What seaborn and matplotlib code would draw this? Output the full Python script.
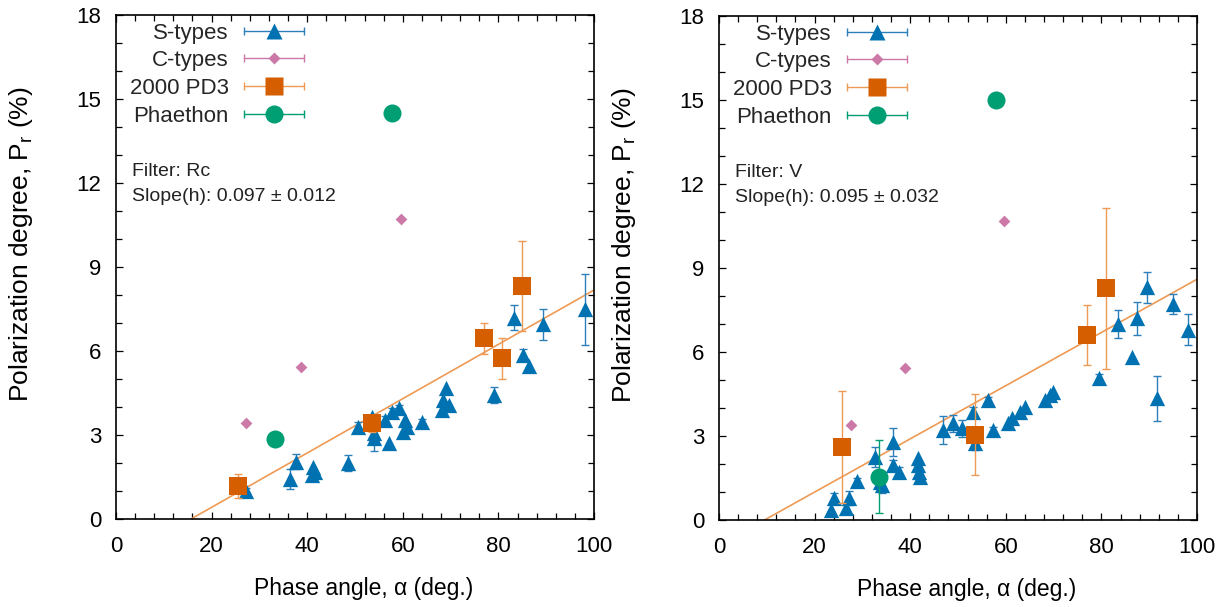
import numpy as np
import pandas as pd
import matplotlib
matplotlib.use("Agg")
import matplotlib.pyplot as plt
import seaborn as sns
from matplotlib.lines import Line2D
from matplotlib.legend_handler import HandlerLine2D, HandlerTuple
from matplotlib.ticker import MultipleLocator

sns.set_theme(style="ticks")
plt.rcParams['font.family'] = ['Liberation Sans', 'DejaVu Sans']

# ---------------- data: filter Rc (left) ----------------
s_alpha_rc = [27.3, 36.4, 37.6, 41.3, 41.6, 41.0, 48.6, 50.7, 53.9, 53.9, 53.5, 56.3, 57.2,
              57.7, 59.3, 60.5, 60.9, 60.1, 64.0, 68.2, 68.5, 69.1, 69.6, 79.1, 83.3,
              85.2, 86.5, 89.3, 98.1]
s_pr_rc = [1.01, 1.42, 2.05, 1.87, 1.69, 1.57, 2.01, 3.27, 2.88, 3.06, 3.65, 3.54, 2.70,
           3.83, 3.95, 3.54, 3.30, 3.12, 3.48, 3.89, 4.25, 4.67, 4.07, 4.43, 7.19,
           5.86, 5.48, 6.96, 7.49]
s_err_rc = [0.10, 0.35, 0.28, 0.0, 0.0, 0.0, 0.28, 0.20, 0.45, 0.0, 0.0, 0.15, 0.0,
            0.15, 0.12, 0.0, 0.0, 0.0, 0.10, 0.0, 0.0, 0.0, 0.0, 0.30, 0.45,
            0.20, 0.0, 0.55, 1.26]
c_alpha_rc = [27.3, 38.7, 59.6]
c_pr_rc = [3.42, 5.42, 10.70]
pd3_alpha_rc = [25.5, 53.5, 76.9, 80.8, 84.9]
pd3_pr_rc = [1.18, 3.42, 6.45, 5.74, 8.32]
pd3_err_rc = [0.43, 0.30, 0.54, 0.74, 1.60]
ph_alpha_rc = [33.2, 57.7]
ph_pr_rc = [2.86, 14.49]
ph_err_rc = [0.0, 0.0]
fit_slope_rc = 0.097
fit_x0_rc = 15.7

# ---------------- data: filter V (right) ----------------
s_alpha_v = [23.4, 24.1, 26.6, 27.1, 28.9, 32.6, 34.0, 33.7, 36.3, 36.3, 37.7, 41.7, 41.7,
             41.9, 42.1, 46.9, 49.0, 50.8, 53.2, 53.6, 56.3, 57.4, 60.5, 61.2, 63.0,
             64.0, 68.2, 69.2, 69.9, 79.4, 83.4, 86.5, 87.4, 89.6, 91.6, 94.9, 98.2]
s_pr_v = [0.36, 0.77, 0.42, 0.77, 1.40, 2.26, 1.25, 1.37, 2.80, 1.96, 1.73, 2.20, 1.96,
          1.73, 1.55, 3.20, 3.45, 3.27, 3.87, 2.74, 4.29, 3.21, 3.45, 3.63, 3.87,
          4.05, 4.29, 4.46, 4.58, 5.06, 7.00, 5.83, 7.20, 8.31, 4.35, 7.71, 6.79]
s_err_v = [0.0, 0.20, 0.10, 0.25, 0.10, 0.35, 0.30, 0.0, 0.50, 0.20, 0.15, 0.0, 0.0,
           0.0, 0.0, 0.50, 0.30, 0.30, 0.15, 0.25, 0.10, 0.10, 0.0, 0.0, 0.0,
           0.0, 0.0, 0.0, 0.0, 0.15, 0.50, 0.0, 0.60, 0.55, 0.80, 0.35, 0.55]
c_alpha_v = [27.6, 38.9, 59.7]
c_pr_v = [3.39, 5.42, 10.69]
pd3_alpha_v = [25.7, 53.6, 76.9, 80.9]
pd3_pr_v = [2.62, 3.04, 6.61, 8.27]
pd3_err_v = [2.00, 1.45, 1.07, 2.86]
ph_alpha_v = [33.5, 57.9]
ph_pr_v = [1.55, 15.00]
ph_err_v = [1.30, 0.0]
fit_slope_v = 0.095
fit_x0_v = 9.5

series_names = ["S-types", "C-types", "2000 PD3", "Phaethon"]
series_colors = ["#0072B2", "#CC79A7", "#D55E00", "#009E73"]
err_colors = ["#2C7FB8", "#CC79A7", "#EE9A55", "#009E73"]
series_markers = ["^", "D", "s", "o"]
series_sizes = [11.0, 6.0, 12.5, 13.0]
fit_color = "#EE9A55"

x_ticks = [0, 20, 40, 60, 80, 100]
y_ticks = [0, 3, 6, 9, 12, 15, 18]


def draw_panel(ax, groups, slope, x0, filter_text, slope_text):
    # fit line
    xs = np.array([x0, 100.0])
    fit_df = pd.DataFrame({"alpha": xs, "pr": slope * (xs - x0)})
    sns.lineplot(data=fit_df, x="alpha", y="pr", ax=ax, color=fit_color, lw=1.2, zorder=1)
    for i, (a, p, e) in enumerate(groups):
        a = np.asarray(a); p = np.asarray(p)
        if e is not None:
            e = np.asarray(e)
            m = e > 0
            if m.any():
                ax.errorbar(a[m], p[m], yerr=e[m], fmt="none", ecolor=err_colors[i],
                            elinewidth=1.0, capsize=2.8, capthick=1.0, zorder=2 + i)
        df = pd.DataFrame({"alpha": a, "pr": p})
        sns.scatterplot(data=df, x="alpha", y="pr", ax=ax, marker=series_markers[i],
                        color=series_colors[i], s=series_sizes[i] ** 2, linewidth=0,
                        zorder=3 + i, legend=False)
    ax.set_xlim(0, 100)
    ax.set_ylim(0, 18)
    ax.set_xticks(x_ticks)
    ax.set_yticks(y_ticks)
    ax.xaxis.set_minor_locator(MultipleLocator(4))
    ax.yaxis.set_minor_locator(MultipleLocator(1))
    ax.tick_params(which="both", direction="in", top=True, right=True, colors="black",
                   width=0.9)
    ax.tick_params(which="major", length=5, labelsize=16)
    ax.tick_params(axis="x", which="major", pad=12)
    ax.tick_params(axis="y", which="major", pad=10.5)
    ax.tick_params(which="minor", length=4)
    for sp in ax.spines.values():
        sp.set_visible(True)
        sp.set_color("black")
        sp.set_linewidth(1.2)
    ax.set_xlabel("Phase angle, α (deg.)", fontsize=16.5, color="black")
    ax.set_ylabel("Polarization degree, P$_\\mathregular{r}$ (%)", fontsize=19, color="black")
    ax.xaxis.set_label_coords(0.517, -0.115)
    ax.yaxis.set_label_coords(-0.17, 0.546)
    ax.text(0.033, 0.69, filter_text, transform=ax.transAxes, fontsize=14,
            va="center", ha="left", color="#222222")
    ax.text(0.033, 0.64, slope_text, transform=ax.transAxes, fontsize=14,
            va="center", ha="left", color="#222222")

    handles = []
    hmap = {}
    for i in range(4):
        bar = Line2D([], [], color=err_colors[i], lw=1.0, marker="|", ms=6, mew=1.0)
        mk = Line2D([], [], color=series_colors[i], ls="none", marker=series_markers[i],
                    ms=series_sizes[i], mec="none")
        hmap[bar] = HandlerLine2D(numpoints=2)
        handles.append((bar, mk))
    hmap[tuple] = HandlerTuple(ndivide=1)
    ax.legend(handles, series_names, handler_map=hmap, loc="upper left",
              bbox_to_anchor=(0.029, 0.985), frameon=False, markerfirst=False,
              fontsize=16, handlelength=3.3, handletextpad=0.4, labelspacing=0.3,
              borderpad=0.0, borderaxespad=0.0)


fig = plt.figure(figsize=(12.32, 6.07), dpi=100)
ax1 = fig.add_axes([116 / 1232, 88 / 607, 478 / 1232, 504 / 607])
ax2 = fig.add_axes([719 / 1232, 87 / 607, 478 / 1232, 504 / 607])

draw_panel(ax1,
           [(s_alpha_rc, s_pr_rc, s_err_rc), (c_alpha_rc, c_pr_rc, None),
            (pd3_alpha_rc, pd3_pr_rc, pd3_err_rc), (ph_alpha_rc, ph_pr_rc, ph_err_rc)],
           fit_slope_rc, fit_x0_rc, "Filter: Rc", "Slope(h): 0.097 ± 0.012")
draw_panel(ax2,
           [(s_alpha_v, s_pr_v, s_err_v), (c_alpha_v, c_pr_v, None),
            (pd3_alpha_v, pd3_pr_v, pd3_err_v), (ph_alpha_v, ph_pr_v, ph_err_v)],
           fit_slope_v, fit_x0_v, "Filter: V", "Slope(h): 0.095 ± 0.032")

fig.savefig("out.png", dpi=100, facecolor="white")
